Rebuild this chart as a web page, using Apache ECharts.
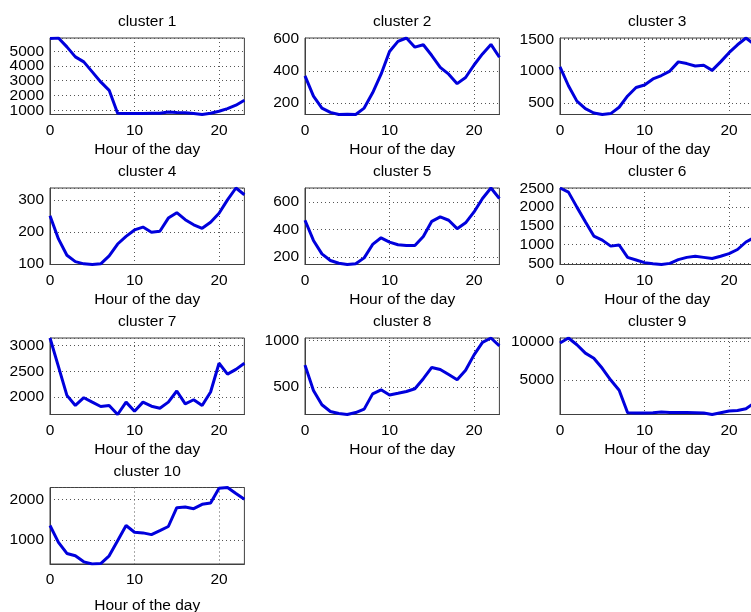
<!DOCTYPE html>
<html>
<head>
<meta charset="utf-8">
<script src="https://cdn.jsdelivr.net/npm/echarts@6/dist/echarts.min.js"></script>
<style>
  html, body { margin: 0; padding: 0; background: #fff; }
  #chart { width: 751px; height: 612px; }
</style>
</head>
<body>
<div id="chart"></div>
<script>
// Hour of the day (x values shared by every cluster)
const hours = [0, 1, 2, 3, 4, 5, 6, 7, 8, 9, 10, 11, 12, 13, 14, 15, 16, 17, 18, 19, 20, 21, 22, 23];

// Average hourly profile of each cluster
const cluster1 = [5870, 5900, 5300, 4620, 4280, 3600, 2920, 2350, 790, 780, 780, 780, 790, 800, 880, 850, 830, 780, 710, 790, 930, 1110, 1340, 1680];
const cluster2 = [368, 242, 168, 141, 128, 130, 128, 168, 263, 379, 520, 583, 604, 547, 562, 495, 421, 379, 320, 358, 436, 505, 564, 484];
const cluster3 = [1065, 769, 527, 409, 340, 316, 330, 430, 608, 742, 780, 876, 930, 1000, 1145, 1118, 1081, 1091, 1011, 1145, 1290, 1414, 1521, 1420];
const cluster4 = [250, 178, 127, 107, 100, 98, 100, 125, 162, 186, 206, 215, 199, 202, 243, 260, 238, 222, 211, 230, 258, 300, 337, 316];
const cluster5 = [467, 321, 224, 176, 156, 147, 152, 195, 292, 340, 309, 290, 285, 285, 350, 459, 491, 467, 406, 448, 527, 624, 700, 624];
const cluster6 = [2510, 2400, 2000, 1610, 1227, 1120, 960, 990, 660, 590, 520, 490, 470, 500, 600, 660, 690, 660, 630, 690, 760, 870, 1070, 1190];
const cluster7 = [3150, 2592, 2033, 1836, 1987, 1901, 1816, 1836, 1660, 1901, 1724, 1901, 1822, 1783, 1901, 2118, 1868, 1947, 1836, 2099, 2658, 2447, 2539, 2658];
const cluster8 = [737, 464, 310, 237, 215, 205, 226, 263, 427, 471, 416, 434, 453, 482, 591, 712, 690, 635, 580, 682, 847, 982, 1029, 945];
const cluster9 = [9783, 10430, 9565, 8478, 7826, 6522, 5000, 3696, 783, 739, 760, 780, 870, 830, 826, 810, 790, 760, 560, 790, 1000, 1087, 1304, 2043];
const cluster10 = [1355, 942, 669, 612, 463, 410, 420, 612, 983, 1355, 1190, 1174, 1132, 1231, 1331, 1793, 1810, 1769, 1876, 1909, 2270, 2289, 2140, 2000];

const clusterNames = ['cluster 1', 'cluster 2', 'cluster 3', 'cluster 4', 'cluster 5',
                      'cluster 6', 'cluster 7', 'cluster 8', 'cluster 9', 'cluster 10'];
const clusterData = [cluster1, cluster2, cluster3, cluster4, cluster5,
                     cluster6, cluster7, cluster8, cluster9, cluster10];

// Y tick spacing per panel; x ticks every 10 hours
const yTickStep = [1000, 200, 500, 100, 200, 500, 500, 500, 5000, 1000];
const xTickStep = 10;
const xLabel = 'Hour of the day';

// 3-column subplot layout (right column runs past the page edge)
const colLeft = [50, 305, 560];
const rowTop = [38, 188, 338, 487.5];
const plotW = 194.4;
const plotH = 76.5;

const FONT = '"Liberation Sans", Arial, Helvetica, sans-serif';
const TEXT = '#000';
const LINE_BLUE = '#0000dc';
const BOX = '#404040';

const isMultiple = (v, step) => Math.abs(v / step - Math.round(v / step)) < 1e-6;

const grids = [], xAxes = [], yAxes = [], series = [], titles = [];
clusterData.forEach((vals, i) => {
  const col = i % 3, row = Math.floor(i / 3);
  const left = colLeft[col], top = rowTop[row];
  grids.push({
    left: left, top: top, width: plotW, height: plotH,
    outerBoundsMode: 'none', containLabel: false,
    show: true, borderColor: BOX, borderWidth: 1, backgroundColor: '#fff'
  });
  titles.push({
    text: clusterNames[i],
    left: left + plotW / 2, top: top - 24, textAlign: 'center', padding: 0,
    textStyle: { fontFamily: FONT, fontSize: 15.5, fontWeight: 'normal', color: TEXT }
  });
  xAxes.push({
    type: 'value', gridIndex: i, min: 0, max: 23, interval: xTickStep,
    name: xLabel, nameLocation: 'middle', nameGap: row === 3 ? 34 : 27,
    nameTextStyle: { fontFamily: FONT, fontSize: 15.5, color: TEXT },
    axisLine: { show: true, lineStyle: { color: BOX, width: 1 } },
    axisTick: { show: false },
    axisLabel: {
      margin: 8, fontFamily: FONT, fontSize: 15.5, color: TEXT,
      formatter: v => isMultiple(v, xTickStep) ? String(v) : ''
    },
    splitLine: { show: true, lineStyle: { color: '#555', width: 1, type: [1, 3] } }
  });
  const step = yTickStep[i];
  yAxes.push({
    type: 'value', gridIndex: i, min: 'dataMin', max: 'dataMax',
    minInterval: step, maxInterval: step,
    axisLine: { show: true, lineStyle: { color: BOX, width: 1 } },
    axisTick: { show: false },
    axisLabel: {
      margin: 6, fontFamily: FONT, fontSize: 15.5, color: TEXT,
      formatter: v => isMultiple(v, step) ? String(v) : ''
    },
    splitLine: { show: true, lineStyle: { color: '#555', width: 1, type: [1, 3] } }
  });
  series.push({
    type: 'line', xAxisIndex: i, yAxisIndex: i,
    data: hours.map((h, k) => [h, vals[k]]),
    symbol: 'none', smooth: false,
    lineStyle: { color: LINE_BLUE, width: 3 },
    animation: false
  });
});

const chart = echarts.init(document.getElementById('chart'), null, { renderer: 'canvas' });
chart.setOption({
  backgroundColor: '#fff',
  animation: false,
  title: titles,
  grid: grids,
  xAxis: xAxes,
  yAxis: yAxes,
  series: series
});
</script>
</body>
</html>
